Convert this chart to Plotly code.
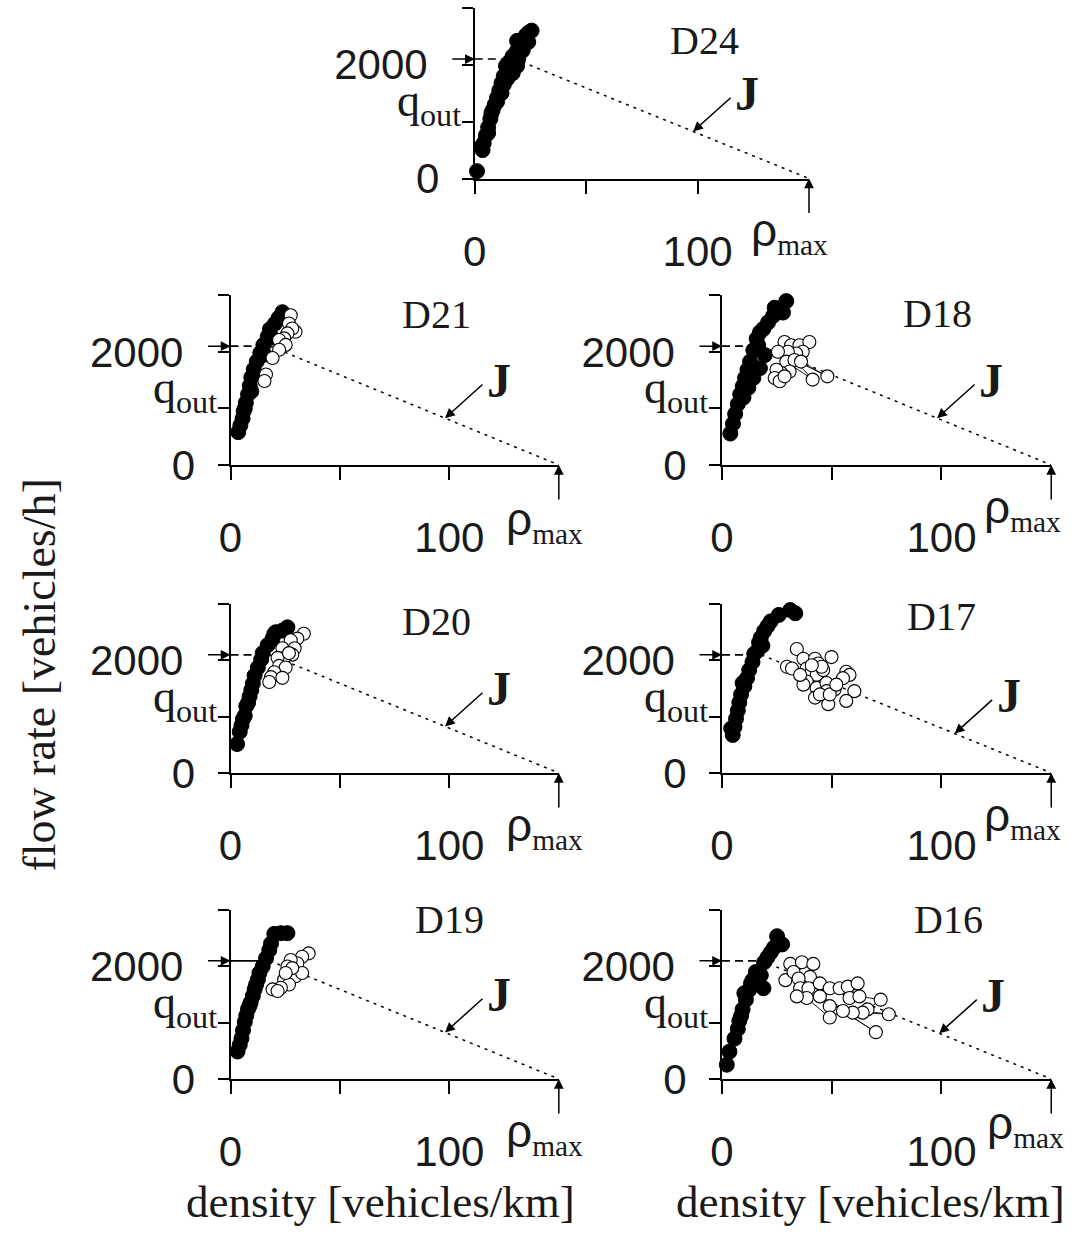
import plotly.graph_objects as go

# ---------------- data ----------------
RHO_MAX = 150          # vehicles/km, end of line J
Q_OUT = 2100           # vehicles/h, outflow from wide moving jam
RHO_MIN = 18           # density of the outflow state (start of J)
X_TICKS = [0, 50, 100]
X_TICK_TEXT = ["0", "", "100"]
Y_TICKS = [0, 1000, 2000, 3000]
Y_TICK_TEXT = ["0", "", "2000\u00a0", ""]

# D24 - free flow only
d24_free_rho = [1, 3.5, 3, 4, 5, 6, 6, 7, 7.5, 8, 9, 10, 10, 11, 12, 12, 13, 13, 14.5, 14, 16.5, 17, 19, 15.5, 17,
                19.5, 19, 21.5, 20, 22, 24, 19, 23, 24, 25.5]
d24_free_q = [130, 500, 560, 620, 760, 800, 900, 1050, 1150, 1200, 1300, 1350, 1420, 1550, 1500, 1680, 1650, 1800,
              1750, 1980, 1980, 1850, 1980, 2050, 2150, 2100, 2250, 2250, 2380, 2420, 2400, 2420, 2520, 2560, 2600]

# D21
d21_free_rho = [3.5, 4.5, 5.5, 6, 6.5, 7, 8, 8.8, 9.5, 9.5, 10.6, 11.5, 12, 13.6, 15.5, 15, 17, 19, 18, 20.3, 22,
                23.7]
d21_free_q = [580, 700, 820, 950, 1000, 1100, 1250, 1400, 1300, 1550, 1690, 1600, 1830, 1980, 1950, 2120, 2270,
              2250, 2400, 2500, 2600, 2700]
d21_sync_rho = [27.5, 26.7, 29.7, 28.2, 26.0, 24.5, 22.2, 25.2, 22.2, 19.2, 16.2, 15.5]
d21_sync_q = [2645, 2500, 2355, 2413, 2326, 2238, 2209, 2122, 2035, 1890, 1599, 1483]

# D18
d18_free_rho = [3.8, 5, 6, 7.2, 8.3, 9.8, 9.5, 10.5, 12, 11.6, 12.8, 14.3, 14.3, 15.8, 16.5, 17.3, 17.3, 18.8, 19.5,
                21, 23.3, 24, 27.8, 29.3]
d18_free_q = [555, 728, 902, 1075, 1249, 1191, 1393, 1538, 1364, 1682, 1827, 2029, 1538, 2231, 2116, 2347, 1711,
              2405, 1942, 2520, 2636, 2780, 2694, 2896]
d18_sync_rho = [28.5, 31.5, 35.3, 39.8, 36.8, 33.8, 30.0, 25.5, 29.3, 41.3, 33.0, 48.0, 36.0, 30.8, 27.0, 24.8,
                24.0, 26.3, 28.5]
d18_sync_q = [2173, 2116, 2116, 2173, 2000, 1971, 2000, 2000, 1827, 1509, 1855, 1566, 1827, 1653, 1624, 1682,
              1538, 1480, 1566]

# D20
d20_free_rho = [3, 4.2, 5, 5.7, 6.5, 7.2, 8, 8.7, 9.5, 10.2, 11, 12.5, 14, 14.7, 17, 19.2, 20, 20.7, 23.7, 26]
d20_free_q = [514, 731, 846, 960, 1017, 1189, 1246, 1360, 1474, 1589, 1731, 1874, 2017, 2131, 2274, 2389, 2474,
              2503, 2531, 2589]
d20_sync_rho = [33.5, 30.5, 27.5, 23.7, 29.3, 28.2, 24.5, 21.5, 22.2, 25.2, 20.0, 18.5, 23.7, 17.7, 26.7]
d20_sync_q = [2474, 2389, 2360, 2217, 2217, 2103, 2046, 2046, 1903, 1874, 1789, 1703, 1691, 1617, 2131]

# D17
d17_free_rho = [4.9, 4.2, 5.7, 6.4, 7.2, 7.9, 8.7, 9.4, 10.2, 11.4, 12.4, 13.9, 14.7, 16.2, 16.9, 17.7, 18.4, 19.2,
                20.7, 22.2, 25.9, 29.6, 31.1, 33.4]
d17_free_q = [675, 790, 819, 964, 1108, 1252, 1396, 1598, 1541, 1685, 1829, 1973, 2118, 2175, 2320, 2406, 2262,
              2522, 2608, 2695, 2810, 3012, 2897, 2839]
d17_sync_rho = [34.1, 29.6, 31.9, 37.1, 38.6, 42.4, 43.9, 49.9, 40.9, 43.1, 46.1, 38.6, 37.1, 43.1, 47.6, 51.3,
                42.4, 48.4, 56.6, 58.1, 55.1, 60.3, 56.6, 45.4, 40.9, 47.6, 44.6, 49.1, 52.1, 35.6]
d17_sync_q = [2204, 1887, 1858, 2031, 1858, 2031, 1945, 2060, 1800, 1743, 1829, 1627, 1570, 1512, 1598, 1483, 1339,
              1223, 1800, 1743, 1685, 1454, 1281, 1887, 1916, 1454, 1396, 1396, 1570, 1743]

# D19
d19_free_rho = [3.2, 4.2, 5, 5.7, 6.5, 7.2, 8, 8.7, 9.2, 10.2, 11, 11.7, 12.5, 13.2, 14.7, 16.2, 17.7, 18.5, 20, 23,
                26]
d19_free_q = [488, 605, 721, 866, 1012, 1128, 1244, 1302, 1360, 1477, 1593, 1680, 1767, 1884, 2000, 2145, 2291,
              2407, 2581, 2593, 2593]
d19_sync_rho = [35.7, 32.7, 30.5, 27.5, 26.0, 29.7, 32.7, 24.5, 26.7, 23.0, 19.2, 21.5, 28.2, 25.2]
d19_sync_q = [2233, 2174, 2058, 2116, 2000, 1826, 1884, 1767, 1680, 1622, 1593, 1564, 1971, 1884]

# D16
d16_free_rho = [2.2, 3.4, 5.7, 7.2, 8.7, 7.9, 9.4, 10.2, 10.9, 12.4, 13.2, 13.9, 15.4, 16.2, 17.7, 18.9, 19.2, 20.7,
                22.2, 23.7, 25.1, 27.4]
d16_free_q = [254, 486, 717, 890, 1121, 1035, 1237, 1526, 1410, 1584, 1699, 1757, 1902, 1757, 1844, 1613, 2075,
              2162, 2249, 2335, 2538, 2393]
d16_sync_rho = [31.1, 36.4, 28.9, 32.6, 41.6, 40.1, 34.9, 35.6, 39.4, 44.6, 49.1, 53.6, 57.3, 61.8, 58.1, 62.6,
                72.3, 66.3, 49.1, 76.0, 64.1, 59.6, 44.6, 70.1, 55.1, 49.1, 38.6, 34.1]
d16_sync_q = [2046, 2075, 1757, 1902, 2046, 1815, 1786, 1613, 1613, 1699, 1613, 1613, 1642, 1699, 1439, 1468,
              1410, 1237, 1295, 1150, 1179, 1179, 1468, 832, 1208, 1092, 1439, 1468]

# ---------------- layout helpers ----------------
W, H = 1074, 1255
SERIF = "Liberation Serif"
SANS = "Liberation Sans"
INK = "#1a1a1a"

# panel: name, free data, sync data, connect sync points, q_out line dash, pixel box (x0, x1, ytop, ybottom)
panels = [
    ("D24", d24_free_rho, d24_free_q, None, None, False, "dash", (468, 806, 8, 182)),
    ("D21", d21_free_rho, d21_free_q, d21_sync_rho, d21_sync_q, False, "dash", (221, 553, 301, 474)),
    ("D18", d18_free_rho, d18_free_q, d18_sync_rho, d18_sync_q, True, "dash", (718, 1051, 301, 474)),
    ("D20", d20_free_rho, d20_free_q, d20_sync_rho, d20_sync_q, False, "dash", (221, 553, 616, 788)),
    ("D17", d17_free_rho, d17_free_q, d17_sync_rho, d17_sync_q, False, "dash", (718, 1051, 616, 788)),
    ("D19", d19_free_rho, d19_free_q, d19_sync_rho, d19_sync_q, False, "solid", (221, 553, 928, 1100)),
    ("D16", d16_free_rho, d16_free_q, d16_sync_rho, d16_sync_q, True, "dash", (718, 1051, 928, 1100)),
]
name_pos = {"D24": (103, 2430), "D21": (94, 2665), "D18": (98, 2680), "D20": (94, 2690),
            "D17": (100, 2780), "D19": (100, 2830), "D16": (103, 2830)}
j_rho = {"D24": 98, "D21": 98, "D18": 98, "D20": 98, "D17": 106, "D19": 98, "D16": 99}
rho_lbl = {"D24": (-19, -54), "D21": (-14, -57), "D18": (-29, -45), "D20": (-14, -55),
           "D17": (-29, -45), "D19": (-14, -55), "D16": (-26, -47)}

fig = go.Figure()
annotations = []
shapes = []

for i, (name, fr, fq, sr, sq, connect, qdash, box) in enumerate(panels):
    k = "" if i == 0 else str(i + 1)
    xa, ya = "x" + k, "y" + k
    x0, x1, yt, yb = box
    fig.add_trace(go.Scatter(x=[0, RHO_MIN], y=[Q_OUT, Q_OUT], mode="lines", xaxis=xa, yaxis=ya,
                             line=dict(color="black", width=1.6, dash="8px,5px" if qdash == "dash" else "solid"),
                             showlegend=False, hoverinfo="skip"))
    fig.add_trace(go.Scatter(x=[RHO_MIN, RHO_MAX], y=[Q_OUT, 0], mode="lines", xaxis=xa, yaxis=ya,
                             line=dict(color="black", width=1.5, dash="3px,5px"),
                             showlegend=False, hoverinfo="skip"))
    fig.add_trace(go.Scatter(x=fr, y=fq, mode="markers", xaxis=xa, yaxis=ya, cliponaxis=False,
                             marker=dict(size=15, color="black", line=dict(color="black", width=1)),
                             showlegend=False))
    if sr is not None:
        fig.add_trace(go.Scatter(x=sr, y=sq, mode="lines+markers" if connect else "markers",
                                 xaxis=xa, yaxis=ya, cliponaxis=False,
                                 line=dict(color="black", width=0.9),
                                 marker=dict(size=13, color="white", line=dict(color="black", width=1.1)),
                                 showlegend=False))

    fig.update_layout(**{
        ("xaxis" + k): dict(domain=[x0 / W, x1 / W], anchor=ya, range=[0, RHO_MAX],
                            showline=True, linecolor="black", linewidth=2,
                            ticks="outside", ticklen=13, tickwidth=2, tickcolor="black",
                            tickvals=X_TICKS, ticktext=X_TICK_TEXT, ticklabelstandoff=22,
                            tickfont=dict(family=SANS, size=42, color=INK),
                            showgrid=False, zeroline=False, fixedrange=True),
        ("yaxis" + k): dict(domain=[1 - yb / H, 1 - yt / H], anchor=xa, range=[0, 3000],
                            showline=True, linecolor="black", linewidth=2,
                            ticks="outside", ticklen=11, tickwidth=2, tickcolor="black",
                            tickvals=Y_TICKS, ticktext=Y_TICK_TEXT, ticklabelstandoff=14,
                            tickfont=dict(family=SANS, size=42, color=INK),
                            showgrid=False, zeroline=False, fixedrange=True),
    })

    nx, ny = name_pos[name]
    annotations.append(dict(x=nx, y=ny, xref=xa, yref=ya, text=name, showarrow=False,
                            xanchor="center", yanchor="middle",
                            font=dict(family=SERIF, size=40, color=INK)))
    jr = j_rho[name]
    jq = Q_OUT * (RHO_MAX - jr) / (RHO_MAX - RHO_MIN)
    annotations.append(dict(x=jr, y=jq, xref=xa, yref=ya, text="", showarrow=True,
                            ax=39, ay=-35, arrowhead=2, arrowsize=1.3, arrowwidth=1.5, arrowcolor="black"))
    annotations.append(dict(x=jr, y=jq, xref=xa, yref=ya, text="<b>J</b>", showarrow=False,
                            xanchor="center", yanchor="middle",
                            xshift=54, yshift=38, font=dict(family=SERIF, size=48, color=INK)))
    annotations.append(dict(x=0, y=Q_OUT, xref=xa, yref=ya, text="", showarrow=True,
                            ax=-24, ay=0, arrowhead=2, arrowsize=1.3, arrowwidth=1.5, arrowcolor="black"))
    shapes.append(dict(type="line", xref=xa, yref=ya, xsizemode="pixel", ysizemode="pixel",
                       xanchor=0, yanchor=Q_OUT, x0=-38, x1=-24, y0=-29, y1=0,
                       line=dict(color="black", width=1.5)))
    annotations.append(dict(x=0, y=Q_OUT, xref=xa, yref=ya, text="q<sub>out</sub>", showarrow=False,
                            xanchor="right", yanchor="middle", xshift=-12, yshift=-45,
                            font=dict(family=SERIF, size=46, color=INK)))
    annotations.append(dict(x=RHO_MAX, y=0, xref=xa, yref=ya, text="", showarrow=True,
                            ax=0, ay=36, arrowhead=2, arrowsize=1.3, arrowwidth=1.5, arrowcolor="black"))
    dx, dy = rho_lbl[name]
    annotations.append(dict(x=RHO_MAX, y=0, xref=xa, yref=ya,
                            text="<span style='font-family:Liberation Sans;font-size:46px'>\u03c1</span>"
                                 "<sub>max</sub>",
                            showarrow=False, xanchor="center", yanchor="middle", xshift=dx, yshift=dy,
                            font=dict(family=SERIF, size=42, color=INK)))

# axis titles
annotations.append(dict(x=28 / W, y=1 - 688 / H, xref="paper", yref="paper", text="flow rate [vehicles/h]",
                        xanchor="center", yanchor="middle",
                        showarrow=False, textangle=-90, font=dict(family=SERIF, size=46, color=INK)))
for cx in (373, 868):
    annotations.append(dict(x=cx / W, y=1 - 1225 / H, xref="paper", yref="paper",
                            xanchor="center", yanchor="middle",
                            text="density [vehicles/km]", showarrow=False,
                            font=dict(family=SERIF, size=45, color=INK)))

fig.update_layout(width=W, height=H, margin=dict(l=0, r=0, t=0, b=0),
                  paper_bgcolor="white", plot_bgcolor="white",
                  annotations=annotations, shapes=shapes, showlegend=False)

fig.write_html("out.html", config={"displayModeBar": False},
               post_script="document.body.style.margin='0px';")
